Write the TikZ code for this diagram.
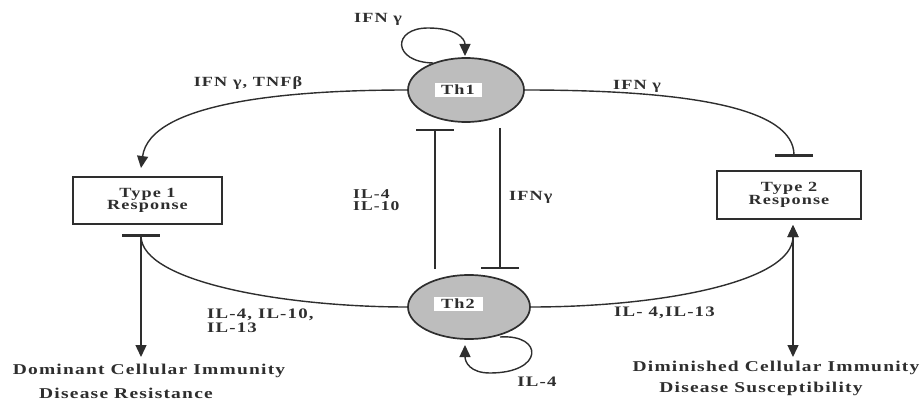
\documentclass[tikz,border=0pt]{standalone}
\usepackage{fontspec}
\setmainfont{Liberation Serif}
\newfontfamily\lbl{Liberation Serif}[FakeStretch=1.3,LetterSpace=8]
\usetikzlibrary{arrows.meta,shapes.geometric}
\definecolor{ink}{HTML}{2E2E2E}
\definecolor{cellgray}{HTML}{BDBDBD}
\newcommand{\fs}[1]{\fontsize{#1}{#1}\selectfont}

\begin{document}
\begin{tikzpicture}[x=1pt,y=-1pt,
  every node/.style={text=ink, inner sep=0pt},
  cell/.style={ellipse, draw=ink, line width=1.7pt, fill=cellgray},
  cellname/.style={fill=white, minimum height=14pt, font=\lbl\bfseries\fs{14}},
  resp/.style={draw=ink, line width=1.7pt, align=center,
               font=\lbl\bfseries\fontsize{14}{12.5}\selectfont},
  lab/.style={font=\lbl\bfseries\fs{14}, align=left},
  biglab/.style={font=\lbl\bfseries\fs{14.5}, align=left},
  outcome/.style={font=\lbl\bfseries\fs{15}},
  link/.style={draw=ink, line width=1.4pt},
  act/.style={link, -{Triangle[length=12pt,width=11pt]}},
  both/.style={link, {Triangle[length=12pt,width=11pt]}-{Triangle[length=12pt,width=11pt]}},
  inh/.style={link, -{Bar[width=38pt,line width=2.5pt]}}
]
\path[use as bounding box] (0,0) rectangle (921,401);

% T-helper cells
\node[cell, minimum width=116pt, minimum height=64pt] (th1) at (466,90) {};
\node[cellname, minimum width=47pt] (th1n) at (458,90) {Th1};
\node[cell, minimum width=122pt, minimum height=64pt] (th2) at (469,307) {};
\node[cellname, minimum width=49pt] (th2n) at (458,304) {Th2};

% response boxes
\node[resp, minimum width=149pt, minimum height=47pt] (type1) at (147.5,200.5) {Type 1\\Response};
\node[resp, minimum width=144pt, minimum height=48pt] (type2) at (789,195) {Type 2\\Response};

% outcomes
\node[outcome] (dom) at (149,371) {Dominant Cellular Immunity};
\node[outcome] (res) at (126,393.5) {Disease Resistance};
\node[outcome] (dim) at (776,368) {Diminished Cellular Immunity};
\node[outcome] (sus) at (761,389) {Disease Susceptibility};

% connector ends
\coordinate (t1top) at (141,168);
\coordinate (t1bot) at (141,234);
\coordinate (t2top) at (794,157);
\coordinate (t2bot) at (793,225);
\coordinate (domtip) at (141,357);
\coordinate (dimtip) at (793,357);
\coordinate (l4start) at (435,269);
\coordinate (l4bar) at (435,129);
\coordinate (gstart) at (500,128);
\coordinate (gbar) at (500,269);
\coordinate (loop1s) at (433,63);
\coordinate (loop1e) at (465,56);
\coordinate (loop2s) at (500,337);
\coordinate (loop2e) at (465,345);

% Th1 outputs
\draw[act] (th1.west) .. controls (290,90) and (150,102) .. (t1top);
\draw[inh] (th1.east) .. controls (690,90) and (794,108) .. (t2top);
% Th2 outputs
\draw[inh] (th2.west) .. controls (285,307) and (141,282) .. (t1bot);
\draw[act] (th2.east) .. controls (660,307) and (793,282) .. (t2bot);
% outcomes of each response
\draw[act] (t1bot) -- (domtip);
\draw[both] (t2bot) -- (dimtip);
% cross-regulation
\draw[inh] (l4start) -- (l4bar);
\draw[inh] (gstart) -- (gbar);
% autocrine loops
\draw[act] (loop1s) .. controls (392,62) and (392,28) .. (428,28)
                    .. controls (455,28) and (465,38) .. (loop1e);
\draw[act] (loop2s) .. controls (544,334) and (544,373) .. (490,373)
                    .. controls (470,373) and (465,362) .. (loop2e);

% cytokine labels
\node[lab] (ifnloop) at (378,19) {IFN γ};
\node[lab] (ifntnf) at (248,83) {IFN γ, TNFβ};
\node[lab] (ifnr) at (637,86) {IFN γ};
\node[lab, font=\lbl\bfseries\fontsize{13.5}{12.5}\selectfont, anchor=west] (il410) at (353,200) {IL-4\\IL-10};
\node[lab, anchor=west] (ifnmid) at (509,197) {IFNγ};
\node[biglab, font=\lbl\bfseries\fontsize{14.5}{13.5}\selectfont, anchor=west] (il41013) at (207,320.5) {IL-4, IL-10,\\IL-13};
\node[biglab, anchor=west] (il413) at (614,313) {IL- 4,IL-13};
\node[biglab] (il4loop) at (537,382) {IL-4};
\end{tikzpicture}
\end{document}
